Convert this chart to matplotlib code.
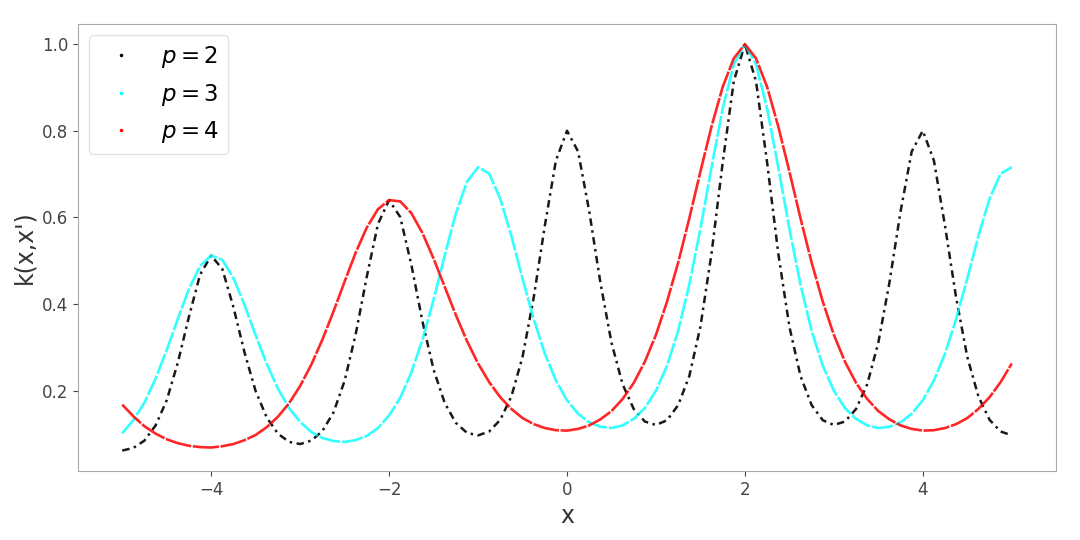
import numpy as np
import matplotlib
matplotlib.use("Agg")
import matplotlib.pyplot as plt
from matplotlib.lines import Line2D

# sample grid along x (step 0.125 from -5 to 5)
x = np.linspace(-5, 5, 81)

# kernel values k(x, x'), x' = 2
k_p2 = [0.062, 0.068, 0.085, 0.120, 0.178, 0.265, 0.371, 0.468,
        0.512, 0.481, 0.393, 0.288, 0.199, 0.138, 0.101, 0.082,
        0.077, 0.085, 0.107, 0.150, 0.223, 0.331, 0.464, 0.585,
        0.640, 0.601, 0.491, 0.360, 0.249, 0.172, 0.126, 0.103,
        0.097, 0.106, 0.133, 0.187, 0.278, 0.414, 0.580, 0.731,
        0.800, 0.752, 0.614, 0.450, 0.311, 0.215, 0.158, 0.129,
        0.121, 0.132, 0.167, 0.234, 0.348, 0.517, 0.726, 0.914,
        1.000,
        0.914, 0.726, 0.517, 0.348, 0.234, 0.167, 0.132, 0.121,
        0.129, 0.158, 0.215, 0.311, 0.450, 0.614, 0.752, 0.800,
        0.731, 0.580, 0.414, 0.278, 0.187, 0.133, 0.106, 0.097]

k_p3 = [0.102, 0.132, 0.173, 0.228, 0.294, 0.366, 0.435, 0.488,
        0.512, 0.502, 0.460, 0.398, 0.328, 0.262, 0.205, 0.160,
        0.128, 0.105, 0.091, 0.084, 0.082, 0.086, 0.096, 0.114,
        0.143, 0.184, 0.242, 0.318, 0.410, 0.512, 0.609, 0.682,
        0.716, 0.701, 0.643, 0.557, 0.459, 0.366, 0.286, 0.224,
        0.178, 0.147, 0.127, 0.117, 0.114, 0.120, 0.135, 0.160,
        0.200, 0.258, 0.338, 0.445, 0.574, 0.716, 0.851, 0.953,
        1.000,
        0.953, 0.851, 0.716, 0.574, 0.445, 0.338, 0.258, 0.200,
        0.160, 0.135, 0.120, 0.114, 0.117, 0.127, 0.147, 0.178,
        0.224, 0.286, 0.366, 0.459, 0.557, 0.643, 0.701, 0.716]

k_p4 = [0.168, 0.141, 0.118, 0.101, 0.088, 0.079, 0.073, 0.070,
        0.069, 0.072, 0.077, 0.086, 0.098, 0.116, 0.140, 0.171,
        0.211, 0.260, 0.318, 0.383, 0.452, 0.519, 0.577, 0.619,
        0.640, 0.637, 0.610, 0.564, 0.505, 0.440, 0.375, 0.315,
        0.263, 0.220, 0.185, 0.158, 0.137, 0.123, 0.114, 0.109,
        0.108, 0.112, 0.120, 0.134, 0.153, 0.181, 0.218, 0.267,
        0.329, 0.406, 0.496, 0.598, 0.706, 0.810, 0.901, 0.967,
        1.000,
        0.967, 0.901, 0.810, 0.706, 0.598, 0.496, 0.406, 0.329,
        0.267, 0.218, 0.181, 0.153, 0.134, 0.120, 0.112, 0.108,
        0.109, 0.114, 0.123, 0.137, 0.158, 0.185, 0.220, 0.263]

labels = [r"$p=2$", r"$p=3$", r"$p=4$"]
colors = ["black", "cyan", "red"]

fig = plt.figure(figsize=(10.8, 5.4), dpi=100)
ax = fig.add_axes([0.072, 0.128, 0.906, 0.828])

# dotted look of the scattered samples
ax.plot(x, k_p2, color=colors[0], lw=1.8, ls=(0, (3, 1.8, 1, 1.8)), alpha=0.9)
ax.plot(x, k_p3, color=colors[1], lw=1.9, ls=(0, (8, 0.8)), alpha=0.8)
ax.plot(x, k_p4, color=colors[2], lw=1.9, ls=(0, (10, 0.6)), alpha=0.85)
ax.set_xlim(-5.5, 5.5)

handles = [Line2D([], [], ls="none", marker=".", markersize=3, color=c) for c in colors]
leg = ax.legend(handles, labels, loc="upper left", fontsize=16.5,
                handletextpad=0.75, borderpad=0.4, labelspacing=0.5,
                framealpha=0.8, edgecolor="#dddddd")

ax.set_xlabel("x", fontsize=17, color="#333333")
ax.set_ylabel("k(x,x')", fontsize=17, color="#333333")
ax.set_xticks([-4, -2, 0, 2, 4])
ax.set_yticks([0.2, 0.4, 0.6, 0.8, 1.0])
ax.tick_params(labelsize=12, colors="#444444")
for s in ax.spines.values():
    s.set_color("#aaaaaa")

plt.savefig("out.png", dpi=100)
